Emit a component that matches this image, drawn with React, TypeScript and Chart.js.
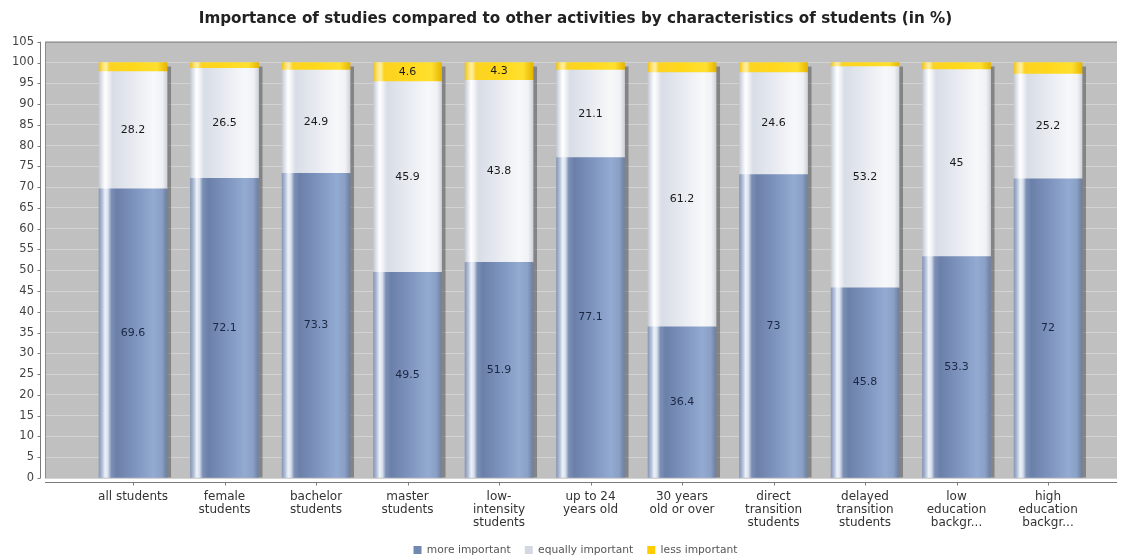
import React, { useEffect, useRef } from 'react';
import { Chart, registerables } from 'chart.js';

Chart.register(...registerables);

const TITLE = 'Importance of studies compared to other activities by characteristics of students (in %)';

const categories: string[][] = [
  ['all students'],
  ['female', 'students'],
  ['bachelor', 'students'],
  ['master', 'students'],
  ['low-', 'intensity', 'students'],
  ['up to 24', 'years old'],
  ['30 years', 'old or over'],
  ['direct', 'transition', 'students'],
  ['delayed', 'transition', 'students'],
  ['low', 'education', 'backgr...'],
  ['high', 'education', 'backgr...'],
];

const moreImportant = [69.6, 72.1, 73.3, 49.5, 51.9, 77.1, 36.4, 73, 45.8, 53.3, 72];
const equallyImportant = [28.2, 26.5, 24.9, 45.9, 43.8, 21.1, 61.2, 24.6, 53.2, 45, 25.2];
const lessImportant = [2.2, 1.4, 1.8, 4.6, 4.3, 1.8, 2.4, 2.4, 1.0, 1.7, 2.8];

const seriesNames = ['more important', 'equally important', 'less important'];

const yTicks = [0, 5, 10, 15, 20, 25, 30, 35, 40, 45, 50, 55, 60, 65, 70, 75, 80, 85, 90, 95, 100, 105];

const BAR_W = 68;
const FONT = '"DejaVu Sans", "Liberation Sans", sans-serif';
const LEGEND_FONT = 10.7;
const LEGEND_PAD = 14;
const LEGEND_Y = 550;
const H_SHIFT = 17;

const legendColors = ['#7088b2', '#d4d8e0', '#ffcc00'];

const blueStops: [number, string][] = [
  [0, '#8797b8'],
  [0.05, '#b6c3da'],
  [0.09, '#eef2f9'],
  [0.13, '#d9e1ee'],
  [0.18, '#7c90b6'],
  [0.26, '#6b80a9'],
  [0.55, '#7f96c0'],
  [0.8, '#93aad1'],
  [0.92, '#8aa0c6'],
  [1, '#6e7f9e'],
];
const whiteStops: [number, string][] = [
  [0, '#c4c9d4'],
  [0.05, '#e6e9f0'],
  [0.09, '#ffffff'],
  [0.14, '#eff1f6'],
  [0.2, '#d8dde6'],
  [0.5, '#e7eaf0'],
  [0.8, '#f7f8fa'],
  [0.93, '#f1f2f5'],
  [1, '#cfd3db'],
];
const yellowStops: [number, string][] = [
  [0, '#efc418'],
  [0.06, '#fde47a'],
  [0.1, '#fff0a0'],
  [0.16, '#fbd323'],
  [0.5, '#ffd81c'],
  [0.85, '#ffe030'],
  [1, '#e6b600'],
];

const makeGrad = (stops: [number, string][]) => (c: any) => {
  const chart = c.chart;
  const xs = chart.scales && chart.scales.x;
  if (!xs || c.type !== 'data' || c.dataIndex === undefined) return stops[Math.floor(stops.length / 2)][1];
  const cx = xs.getPixelForValue(c.dataIndex);
  if (!isFinite(cx)) return stops[Math.floor(stops.length / 2)][1];
  const g = chart.ctx.createLinearGradient(cx - BAR_W / 2, 0, cx + BAR_W / 2, 0);
  stops.forEach(([o, col]) => g.addColorStop(o, col));
  return g;
};

const plotBgPlugin = {
  id: 'plotBg',
  beforeDraw(chart: any) {
    const { ctx, chartArea: a } = chart;
    ctx.save();
    ctx.fillStyle = '#c0c0c0';
    ctx.fillRect(a.left, a.top, a.right - a.left, a.bottom - a.top);
    ctx.restore();
  },
  afterDraw(chart: any) {
    const { ctx, chartArea: a } = chart;
    ctx.save();
    ctx.strokeStyle = '#8a8a8a';
    ctx.lineWidth = 1;
    ctx.beginPath();
    ctx.moveTo(a.left + 0.5, a.bottom);
    ctx.lineTo(a.left + 0.5, a.top + 0.5);
    ctx.lineTo(a.right, a.top + 0.5);
    ctx.stroke();
    const ys = chart.scales.y;
    const xs = chart.scales.x;
    ctx.strokeStyle = '#7a7a7a';
    ctx.beginPath();
    const ax = a.left - 4.5;
    ctx.moveTo(ax, a.top);
    ctx.lineTo(ax, a.bottom);
    yTicks.forEach((t) => {
      const py = Math.round(ys.getPixelForValue(t)) + 0.5;
      ctx.moveTo(ax - 3, py);
      ctx.lineTo(ax, py);
    });
    const ay = a.bottom + 4.5;
    ctx.moveTo(a.left, ay);
    ctx.lineTo(a.right, ay);
    categories.forEach((_, i) => {
      const px = Math.round(xs.getPixelForValue(i)) + 0.5;
      ctx.moveTo(px, ay);
      ctx.lineTo(px, ay + 3);
    });
    ctx.stroke();
    ctx.restore();
  },
};

const shadowPlugin = {
  id: 'barShadow',
  beforeDatasetsDraw(chart: any) {
    const { ctx } = chart;
    const n = chart.data.datasets.length;
    const topMeta = chart.getDatasetMeta(n - 1);
    const baseMeta = chart.getDatasetMeta(0);
    ctx.save();
    ctx.fillStyle = 'rgba(60,60,60,0.45)';
    topMeta.data.forEach((el: any, i: number) => {
      const p = el.getProps(['x', 'y', 'width'], true);
      const b = baseMeta.data[i].getProps(['base'], true).base;
      ctx.fillRect(p.x + p.width / 2, p.y + 4, 4, b - p.y - 4);
    });
    ctx.restore();
  },
};

const labelPlugin = {
  id: 'segLabels',
  afterDatasetsDraw(chart: any) {
    const { ctx } = chart;
    ctx.save();
    ctx.font = '11px ' + FONT;
    ctx.textAlign = 'center';
    ctx.textBaseline = 'middle';
    chart.data.datasets.forEach((ds: any, di: number) => {
      const meta = chart.getDatasetMeta(di);
      meta.data.forEach((el: any, i: number) => {
        const p = el.getProps(['x', 'y', 'base'], true);
        if (Math.abs(p.base - p.y) < 15) return;
        ctx.fillStyle = di === 0 ? '#1b2845' : '#1a1a1a';
        ctx.fillText(String(ds.data[i].y), p.x, (p.y + p.base) / 2);
      });
    });
    ctx.restore();
  },
};

const layoutShiftPlugin = {
  id: 'layoutShift',
  afterLayout(chart: any) {
    const lg = chart.legend;
    if (lg) {
      const ih = Math.max(LEGEND_FONT, 8);
      const newTop = LEGEND_Y - LEGEND_PAD - ih / 2;
      const dy = newTop - lg.top;
      lg.top += dy;
      lg.bottom += dy;
      lg.left += H_SHIFT;
      lg.right += H_SHIFT;
    }
    const tb = chart.titleBlock;
    if (tb) {
      tb.left += H_SHIFT;
      tb.right += H_SHIFT;
    }
  },
};

export default function App() {
  const ref = useRef<HTMLCanvasElement>(null);

  useEffect(() => {
    document.body.style.margin = '0';
    const canvas = ref.current;
    if (!canvas) return;
    const toPoints = (arr: number[]) => arr.map((v, i) => ({ x: i, y: v }));
    const chart = new Chart(canvas, {
      type: 'bar',
      data: {
        datasets: [
          { label: seriesNames[0], data: toPoints(moreImportant), backgroundColor: makeGrad(blueStops) as any, barThickness: BAR_W, borderWidth: 0 },
          { label: seriesNames[1], data: toPoints(equallyImportant), backgroundColor: makeGrad(whiteStops) as any, barThickness: BAR_W, borderWidth: 0 },
          { label: seriesNames[2], data: toPoints(lessImportant), backgroundColor: makeGrad(yellowStops) as any, barThickness: BAR_W, borderWidth: 0 },
        ],
      },
      plugins: [plotBgPlugin, shadowPlugin, labelPlugin, layoutShiftPlugin],
      options: {
        responsive: false,
        animation: false,
        events: [],
        layout: { padding: { left: 0, right: 12, top: 0, bottom: 0 } },
        scales: {
          x: {
            type: 'linear',
            stacked: true,
            offset: false,
            min: -0.962,
            max: 10.754,
            afterBuildTicks: (s: any) => {
              s.ticks = categories.map((_, i) => ({ value: i }));
            },
            afterFit: (s: any) => {
              s.height = 52;
            },
            grid: { display: false, drawTicks: false, offset: false },
            border: { display: false },
            ticks: {
              autoSkip: false,
              maxRotation: 0,
              padding: 12,
              color: '#333',
              font: { family: FONT, size: 12, lineHeight: 13 / 12 },
              callback: (v: any) => categories[v] ?? '',
            },
          },
          y: {
            stacked: true,
            min: 0,
            max: 105,
            afterBuildTicks: (s: any) => {
              s.ticks = yTicks.map((v) => ({ value: v }));
            },
            afterFit: (s: any) => {
              s.width = 45;
            },
            grid: { color: '#d3d3d3', drawTicks: false, lineWidth: 1 },
            border: { display: false },
            ticks: {
              padding: 11,
              color: '#444',
              font: { family: FONT, size: 11.5 },
            },
          },
        },
        plugins: {
          title: {
            display: true,
            text: TITLE,
            color: '#222',
            font: { family: FONT, size: 15.2, weight: 'bold' },
            padding: { top: 10, bottom: 13.5 },
          },
          legend: {
            position: 'bottom',
            maxHeight: 28,
            labels: {
              boxWidth: 8,
              boxHeight: 8,
              padding: LEGEND_PAD,
              color: '#555',
              font: { family: FONT, size: LEGEND_FONT },
              generateLabels: () =>
                seriesNames.map((n, i) => ({
                  text: n,
                  fillStyle: legendColors[i],
                  strokeStyle: legendColors[i],
                  lineWidth: 0,
                  hidden: false,
                  datasetIndex: i,
                  fontColor: '#555',
                })),
            },
          },
          tooltip: { enabled: false },
        },
      },
    });
    return () => chart.destroy();
  }, []);

  return (
    <div style={{ width: 1129, height: 558, background: '#fff' }}>
      <canvas ref={ref} width={1129} height={558} style={{ display: 'block' }} />
    </div>
  );
}
